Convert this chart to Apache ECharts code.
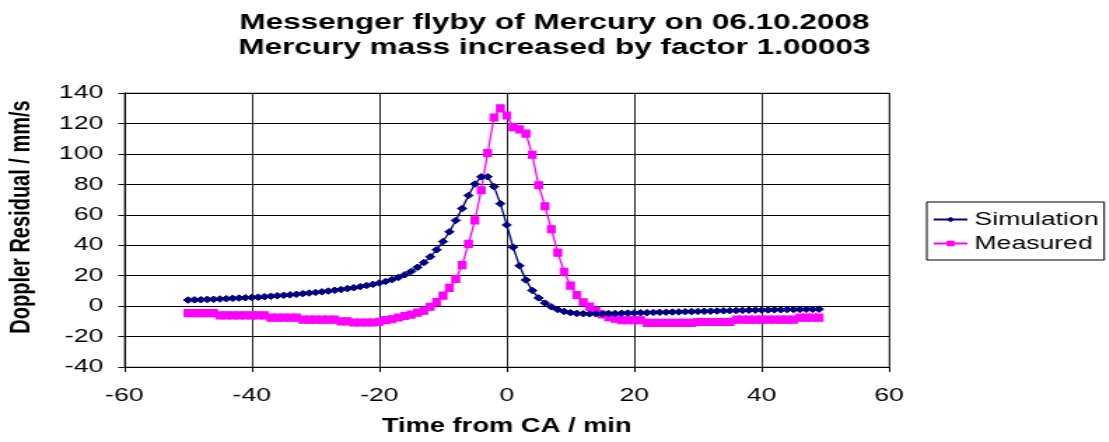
<!DOCTYPE html>
<html>
<head>
<meta charset="utf-8">
<script src="https://cdn.jsdelivr.net/npm/echarts@6/dist/echarts.min.js"></script>
<style>
html,body{margin:0;padding:0;background:#fff;}
#wrap{position:absolute;left:0;top:0;width:1109px;height:442px;overflow:hidden;background:#fff;}
#c{position:absolute;left:0;top:0;width:792.1px;height:442px;transform:scaleX(1.4);transform-origin:0 0;}
</style>
</head>
<body>
<div id="wrap"><div id="c"></div></div>
<script>
// ---- data ----
const titleLines = ['Messenger flyby of Mercury on 06.10.2008', 'Mercury mass increased by factor 1.00003'];
const xAxisTitle = 'Time from CA / min';
const yAxisTitle = 'Doppler Residual / mm/s';
const seriesNames = ['Simulation', 'Measured'];
const xTicks = [-60, -40, -20, 0, 20, 40, 60];
const yTicks = [-40, -20, 0, 20, 40, 60, 80, 100, 120, 140];

const timeMin = [
  -50,-49,-48,-47,-46,-45,-44,-43,-42,-41,
  -40,-39,-38,-37,-36,-35,-34,-33,-32,-31,
  -30,-29,-28,-27,-26,-25,-24,-23,-22,-21,
  -20,-19,-18,-17,-16,-15,-14,-13,-12,-11,
  -10,-9,-8,-7,-6,-5,-4,-3,-2,-1,
  0,1,2,3,4,5,6,7,8,9,
  10,11,12,13,14,15,16,17,18,19,
  20,21,22,23,24,25,26,27,28,29,
  30,31,32,33,34,35,36,37,38,39,
  40,41,42,43,44,45,46,47,48,49
];

const simulation = [
  4.0,4.1,4.2,4.4,4.5,4.7,4.9,5.1,5.3,5.5,
  5.7,5.9,6.2,6.5,6.8,7.1,7.4,7.8,8.2,8.6,
  9.0,9.4,9.9,10.4,10.9,11.5,12.1,12.8,13.5,14.3,
  15.2,16.2,17.4,18.8,20.6,22.8,25.5,28.6,32.4,37.0,
  42.4,48.8,56.3,64.1,72.7,80.2,84.9,85.0,78.5,67.3,
  53.3,38.7,26.5,17.2,10.3,5.4,2.0,-0.5,-2.3,-3.5,
  -4.3,-4.8,-5.0,-5.1,-5.1,-5.0,-4.9,-4.8,-4.7,-4.6,
  -4.5,-4.4,-4.3,-4.2,-4.1,-4.0,-3.9,-3.8,-3.7,-3.6,
  -3.5,-3.4,-3.3,-3.2,-3.1,-3.0,-2.9,-2.8,-2.7,-2.6,
  -2.6,-2.5,-2.4,-2.4,-2.3,-2.2,-2.2,-2.1,-2.1,-2.0
];

const measured = [
  -4.6,-4.6,-4.6,-4.6,-4.6,-6.1,-6.1,-6.1,-6.1,-6.1,
  -6.1,-6.1,-6.1,-7.6,-7.6,-7.6,-7.6,-7.6,-8.9,-8.9,
  -8.9,-8.9,-8.9,-8.9,-10.0,-10.0,-10.8,-10.8,-10.8,-10.8,
  -10.3,-9.2,-8.6,-7.5,-6.5,-5.6,-4.3,-3.0,-0.4,2.6,
  6.9,12.0,17.8,26.9,40.9,56.3,76.1,100.6,123.9,129.9,
  125.2,117.6,116.1,113.3,99.4,79.4,65.6,50.5,35.1,22.6,
  13.5,7.3,2.5,-0.3,-3.0,-5.5,-7.2,-8.3,-9.3,-9.3,
  -9.3,-9.3,-11.0,-11.0,-11.0,-11.0,-11.0,-11.0,-11.0,-11.0,
  -10.4,-10.4,-10.4,-10.4,-10.4,-10.4,-8.9,-8.9,-8.9,-8.9,
  -8.9,-8.9,-8.9,-8.9,-8.9,-8.9,-7.6,-7.6,-7.6,-7.6
];

// ---- chart ----
const FONT = '"Liberation Sans", Arial, sans-serif';
const simData = timeMin.map((t, i) => [t, simulation[i]]);
const measData = timeMin.map((t, i) => [t, measured[i]]);

const chart = echarts.init(document.getElementById('c'), null, {renderer: 'canvas'});
chart.setOption({
  animation: false,
  backgroundColor: '#ffffff',
  title: {
    text: titleLines.join('\n'),
    left: 'center',
    top: 5,
    textStyle: {fontFamily: FONT, fontWeight: 'bold', fontSize: 22.5, lineHeight: 25, color: '#000'}
  },
  legend: {
    orient: 'vertical',
    left: 662,
    top: 202,
    padding: [8, 4, 7, 4],
    itemGap: 5,
    itemWidth: 24,
    itemHeight: 7,
    borderColor: '#000',
    borderWidth: 1,
    textStyle: {fontFamily: FONT, fontSize: 19, color: '#000'},
    data: seriesNames
  },
  grid: {
    left: 88.8, right: 156.9, top: 93, bottom: 69.3,
    show: true, borderColor: '#888', borderWidth: 1, backgroundColor: '#fff'
  },
  graphic: [{
    type: 'text',
    x: 15, y: 217,
    rotation: Math.PI / 2,
    style: {
      text: yAxisTitle,
      font: 'bold 20px ' + FONT,
      fill: '#000',
      textAlign: 'center',
      textVerticalAlign: 'middle'
    }
  }],
  xAxis: {
    type: 'value',
    min: xTicks[0], max: xTicks[xTicks.length - 1], interval: 20,
    name: xAxisTitle,
    nameLocation: 'middle',
    nameGap: 50,
    nameTextStyle: {fontFamily: FONT, fontWeight: 'bold', fontSize: 19.5, color: '#000'},
    axisLine: {onZero: false, lineStyle: {color: '#000', width: 1}},
    axisTick: {show: true, inside: false, length: 5, lineStyle: {color: '#000'}},
    axisLabel: {fontFamily: FONT, fontSize: 19, color: '#000', margin: 19},
    splitLine: {show: true, lineStyle: {color: '#222', width: 1}}
  },
  yAxis: {
    type: 'value',
    min: yTicks[0], max: yTicks[yTicks.length - 1], interval: 20,
    axisLine: {show: true, onZero: false, lineStyle: {color: '#000', width: 1}},
    axisTick: {show: true, inside: false, length: 4.3, lineStyle: {color: '#000'}},
    axisLabel: {fontFamily: FONT, fontSize: 19, color: '#000', margin: 15},
    splitLine: {show: true, lineStyle: {color: '#000', width: 1}}
  },
  series: [
    {
      name: seriesNames[0],
      type: 'line',
      data: simData,
      symbol: 'diamond',
      symbolSize: 6.5,
      showAllSymbol: true,
      lineStyle: {color: '#000080', width: 1.3},
      itemStyle: {color: '#000080', borderColor: '#000080'},
      z: 3
    },
    {
      name: seriesNames[1],
      type: 'line',
      data: measData,
      symbol: 'rect',
      symbolSize: [5.5, 7],
      showAllSymbol: true,
      lineStyle: {color: '#ff00ff', width: 1.3},
      itemStyle: {color: '#ff00ff', borderColor: '#ff00ff'},
      z: 2
    }
  ]
});
</script>
</body>
</html>
